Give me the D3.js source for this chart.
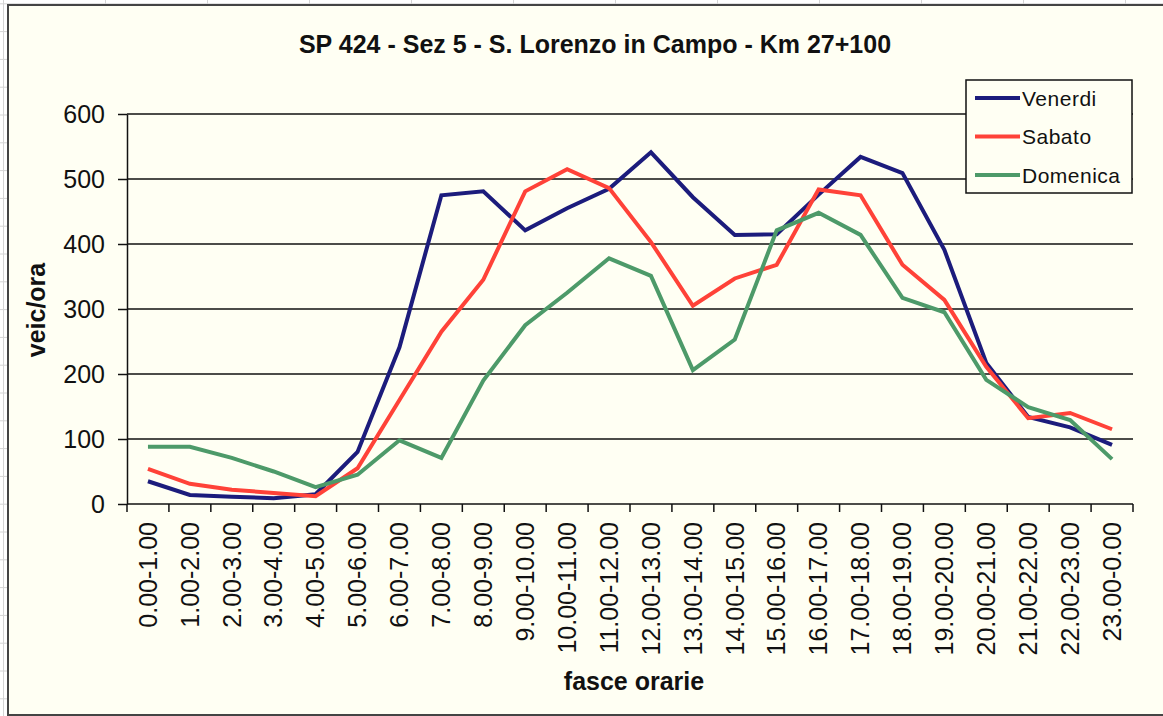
<!DOCTYPE html>
<html>
<head>
<meta charset="utf-8">
<script src="https://cdn.jsdelivr.net/npm/d3@7"></script>
<style>
  html, body { margin: 0; padding: 0; background: #ffffff; }
  svg { display: block; }
</style>
</head>
<body>
<div id="chart"></div>
<script>
// fasce orarie (categorie asse x)
const fasce = [
  '0.00-1.00', '1.00-2.00', '2.00-3.00', '3.00-4.00', '4.00-5.00', '5.00-6.00',
  '6.00-7.00', '7.00-8.00', '8.00-9.00', '9.00-10.00', '10.00-11.00', '11.00-12.00',
  '12.00-13.00', '13.00-14.00', '14.00-15.00', '15.00-16.00', '16.00-17.00', '17.00-18.00',
  '18.00-19.00', '19.00-20.00', '20.00-21.00', '21.00-22.00', '22.00-23.00', '23.00-0.00'
];

// veic/ora per giorno
const venerdi  = [35, 14, 11, 9, 15, 80, 241, 475, 481, 421, 455, 485, 541, 472, 414, 415, 476, 534, 509, 391, 217, 134, 118, 91];
const sabato   = [54, 31, 22, 17, 12, 55, 160, 265, 345, 481, 515, 486, 403, 305, 347, 368, 484, 475, 368, 314, 211, 132, 140, 115];
const domenica = [88, 88, 71, 50, 26, 45, 98, 71, 190, 275, 325, 378, 351, 206, 253, 421, 448, 414, 317, 295, 191, 149, 129, 69];

const yTicks = [0, 100, 200, 300, 400, 500, 600];
const seriesNames = ['Venerdi', 'Sabato', 'Domenica'];

const W = 1163, H = 716;
const margin = { top: 114, right: 30, bottom: 212, left: 127 };
const font = '"Liberation Sans", Arial, sans-serif';

const svg = d3.select('#chart').append('svg')
  .attr('width', W)
  .attr('height', H);

// spreadsheet cells behind the chart object
const sheet = svg.append('g').attr('stroke', '#d4d4d4').attr('stroke-width', 1);
sheet.selectAll('.col').data(d3.range(12)).enter().append('line')
  .attr('x1', i => 3 + i * 102 + 0.5).attr('x2', i => 3 + i * 102 + 0.5)
  .attr('y1', 0).attr('y2', H);
sheet.selectAll('.row').data(d3.range(27)).enter().append('line')
  .attr('y1', i => 3.8 + i * 27.8).attr('y2', i => 3.8 + i * 27.8)
  .attr('x1', 0).attr('x2', W);

// chart frame
svg.append('rect')
  .attr('x', 8)
  .attr('y', 5)
  .attr('width', W + 20)
  .attr('height', 710)
  .attr('fill', '#fffff3')
  .attr('stroke', '#444')
  .attr('stroke-width', 2);

const plotW = 1133 - margin.left;
const plotH = 504 - margin.top;

const g = svg.append('g')
  .attr('transform', `translate(${margin.left},${margin.top})`);

// scales
const x = d3.scaleBand()
  .domain(fasce)
  .range([0, plotW])
  .padding(0);

const y = d3.scaleLinear()
  .domain([0, 600])
  .range([plotH, 0]);

const color = d3.scaleOrdinal()
  .domain(seriesNames)
  .range(['#1c1c7c', '#ff4238', '#4d9a69']);

// gridlines
g.selectAll('.grid')
  .data(yTicks.filter(v => v > 0))
  .enter().append('line')
  .attr('class', 'grid')
  .attr('x1', 0)
  .attr('x2', plotW)
  .attr('y1', d => y(d))
  .attr('y2', d => y(d))
  .attr('stroke', '#111')
  .attr('stroke-width', 1.5);

// Y axis
const yAxis = g.append('g')
  .attr('class', 'y-axis')
  .call(d3.axisLeft(y).tickValues(yTicks).tickSize(9).tickSizeOuter(0).tickPadding(13));
yAxis.select('.domain').attr('stroke', '#111').attr('stroke-width', 1.5);
yAxis.selectAll('.tick line').attr('stroke', '#111').attr('stroke-width', 1.5);
yAxis.selectAll('text')
  .style('font-family', font)
  .style('font-size', '25px')
  .attr('fill', '#111');

// X axis: line, ticks at the category boundaries, rotated labels
const xAxis = g.append('g')
  .attr('class', 'x-axis')
  .attr('transform', `translate(0,${plotH})`);

xAxis.append('line')
  .attr('x1', 0).attr('x2', plotW)
  .attr('stroke', '#111')
  .attr('stroke-width', 1.5);

const bounds = fasce.map(d => x(d)).concat([plotW]);
xAxis.selectAll('.tick-mark')
  .data(bounds)
  .enter().append('line')
  .attr('class', 'tick-mark')
  .attr('x1', d => d).attr('x2', d => d)
  .attr('y1', 0).attr('y2', 8)
  .attr('stroke', '#111')
  .attr('stroke-width', 1.5);

xAxis.selectAll('.tick-label')
  .data(fasce)
  .enter().append('text')
  .attr('class', 'tick-label')
  .attr('transform', d => `translate(${x(d) + x.bandwidth() / 2},18) rotate(-90)`)
  .attr('dy', '0.35em')
  .attr('text-anchor', 'end')
  .style('font-family', font)
  .style('font-size', '25px')
  .attr('fill', '#111')
  .text(d => d);

// lines
const series = [
  { name: 'Venerdi', values: venerdi },
  { name: 'Sabato', values: sabato },
  { name: 'Domenica', values: domenica }
];

const line = d3.line()
  .x((d, i) => x(fasce[i]) + x.bandwidth() / 2)
  .y(d => y(d));

g.selectAll('.serie')
  .data(series)
  .enter().append('path')
  .attr('class', 'serie')
  .attr('d', d => line(d.values))
  .attr('fill', 'none')
  .attr('stroke', d => color(d.name))
  .attr('stroke-width', 4)
  .attr('stroke-linejoin', 'miter');

// title
svg.append('text')
  .attr('x', 595)
  .attr('y', 53)
  .attr('text-anchor', 'middle')
  .style('font-family', '"Liberation Sans Narrow", "Arial Narrow", ' + font)
  .style('font-size', '25px')
  .style('font-weight', 'bold')
  .attr('fill', '#111')
  .text('SP 424 - Sez 5 - S. Lorenzo in Campo - Km 27+100');

// Y axis label
svg.append('text')
  .attr('transform', 'translate(45,310) rotate(-90)')
  .attr('text-anchor', 'middle')
  .style('font-family', font)
  .style('font-size', '25px')
  .style('font-weight', 'bold')
  .attr('fill', '#111')
  .text('veic/ora');

// X axis label
svg.append('text')
  .attr('x', 634)
  .attr('y', 690)
  .attr('text-anchor', 'middle')
  .style('font-family', '"Liberation Sans Narrow", "Arial Narrow", ' + font)
  .style('font-size', '25px')
  .style('font-weight', 'bold')
  .attr('fill', '#111')
  .text('fasce orarie');

// legend
const legend = svg.append('g')
  .attr('class', 'legend')
  .attr('transform', 'translate(966,80)');

legend.append('rect')
  .attr('width', 166)
  .attr('height', 113)
  .attr('fill', '#fffff3')
  .attr('stroke', '#111')
  .attr('stroke-width', 1.5);

const legendItems = legend.selectAll('.legend-item')
  .data(seriesNames)
  .enter().append('g')
  .attr('class', 'legend-item')
  .attr('transform', (d, i) => `translate(0,${18 + i * 38.5})`);

legendItems.append('line')
  .attr('x1', 9).attr('x2', 54)
  .attr('stroke', d => color(d))
  .attr('stroke-width', 4);

legendItems.append('text')
  .attr('x', 56)
  .attr('dy', '0.36em')
  .style('font-family', font)
  .style('font-size', '21px')
  .style('letter-spacing', '0.5px')
  .attr('fill', '#111')
  .text(d => d);
</script>
</body>
</html>
